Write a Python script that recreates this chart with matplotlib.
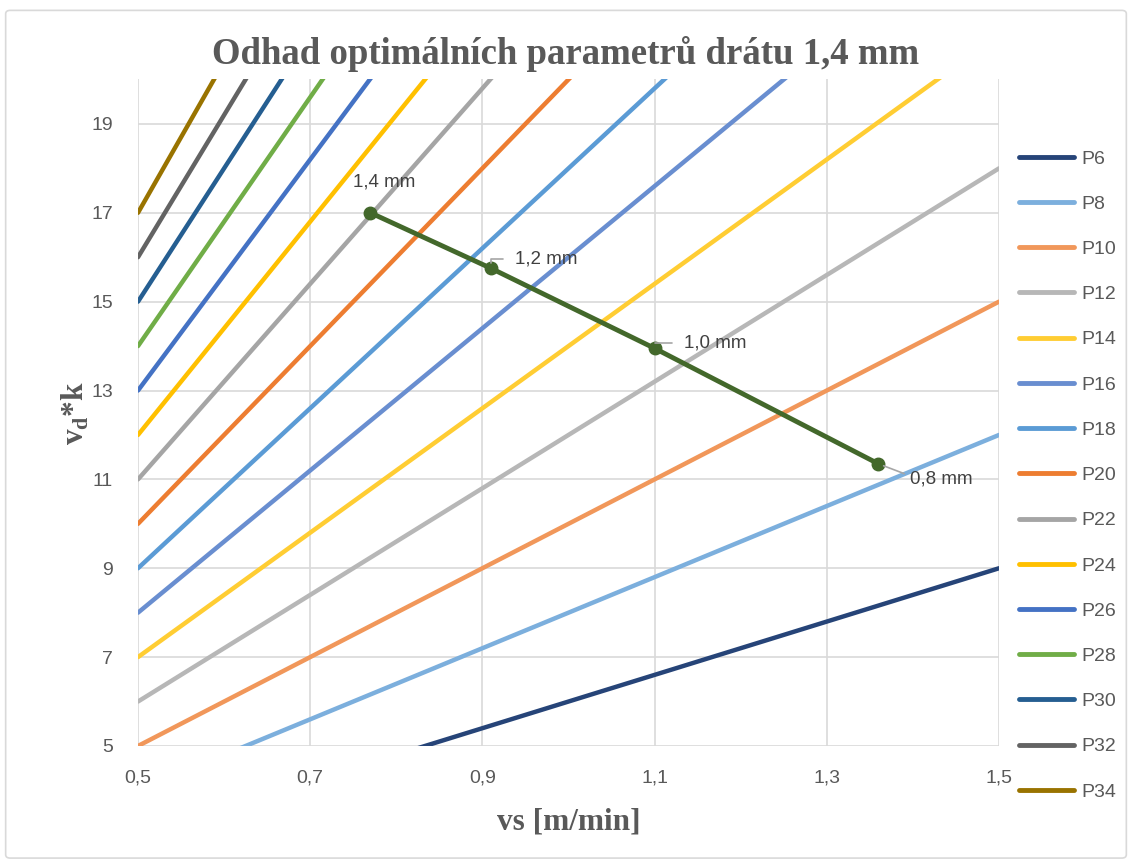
import matplotlib
matplotlib.use("Agg")
import matplotlib.pyplot as plt
from matplotlib.patches import FancyBboxPatch

plt.rcParams["mathtext.fontset"] = "custom"
plt.rcParams["mathtext.rm"] = "Liberation Serif:bold"
plt.rcParams["mathtext.bf"] = "Liberation Serif:bold"

# serie P6..P34: hodnoty v_d*k pri vs = 0,5 a 1,5
nazvy = ["P6", "P8", "P10", "P12", "P14", "P16", "P18", "P20",
         "P22", "P24", "P26", "P28", "P30", "P32", "P34"]
vs_krajni = [0.5, 1.5]
y_zac = [3, 4, 5, 6, 7, 8, 9, 10, 11, 12, 13, 14, 15, 16, 17]
y_kon = [9, 12, 15, 18, 21, 24, 27, 30, 33, 36, 39, 42, 45, 48, 51]
barvy = ["#264478", "#7CAFDD", "#F1975A", "#B7B7B7", "#FFCD33", "#698ED0",
         "#5B9BD5", "#ED7D31", "#A5A5A5", "#FFC000", "#4472C4", "#70AD47",
         "#255E91", "#636363", "#997300"]

# odhad optimalnich parametru
opt_vs = [0.77, 0.91, 1.10, 1.36]
opt_y = [17.0, 15.75, 13.95, 11.35]
opt_popisky = ["1,4 mm", "1,2 mm", "1,0 mm", "0,8 mm"]

sedy = "#595959"
fig = plt.figure(figsize=(11.32, 8.65), dpi=100)
ax = fig.add_axes([0.1219, 0.1376, 0.7606, 0.7705])

# ramecek grafu
fig.patches.append(FancyBboxPatch((0.005, 0.008), 0.99, 0.98, boxstyle="round,pad=0,rounding_size=0.004",
                                  transform=fig.transFigure, fill=False, ec="#D9D9D9", lw=1.2))

for i in range(len(nazvy)):
    ax.plot(vs_krajni, [y_zac[i], y_kon[i]], color=barvy[i], lw=3.2,
            solid_capstyle="round", label=nazvy[i], zorder=2)

ax.plot(opt_vs, opt_y, color="#43682B", lw=3.5, marker="o", ms=9, zorder=3)

# popisky bodu
txt = dict(ha="center", va="center", fontsize=13.5, color="#404040", family="Liberation Sans")
leader = dict(arrowstyle="-", color="#A6A6A6", lw=1.2, shrinkA=7, shrinkB=4,
              relpos=(0, 0.5), connectionstyle="angle,angleA=0,angleB=90,rad=0")
ax.annotate(opt_popisky[0], (opt_vs[0], opt_y[0]), xytext=(10, 22), textcoords="offset points", **txt)
ax.annotate(opt_popisky[1], (opt_vs[1], opt_y[1]), xytext=(40, 7), textcoords="offset points",
            arrowprops=leader, **txt)
ax.annotate(opt_popisky[2], (opt_vs[2], opt_y[2]), xytext=(44, 4), textcoords="offset points",
            arrowprops=leader, **txt)
ax.annotate(opt_popisky[3], (opt_vs[3], opt_y[3]), xytext=(45, -11), textcoords="offset points",
            arrowprops=dict(arrowstyle="-", color="#A6A6A6", lw=1.2, shrinkA=2, shrinkB=4,
                            relpos=(0.0, 0.7)), **txt)

ax.set_xlim(0.5, 1.5)
ax.set_ylim(5, 20)
ax.set_xticks([0.5, 0.7, 0.9, 1.1, 1.3, 1.5])
ax.set_yticks([5, 7, 9, 11, 13, 15, 17, 19])
ax.set_xticklabels(["0,5", "0,7", "0,9", "1,1", "1,3", "1,5"])
ax.set_yticklabels(["5", "7", "9", "11", "13", "15", "17", "19"])
ax.tick_params(axis="x", length=0, labelsize=14, colors=sedy, pad=17)
ax.tick_params(axis="y", length=0, labelsize=14, colors=sedy, pad=18)
for t in ax.get_xticklabels() + ax.get_yticklabels():
    t.set_family("Liberation Sans")
ax.grid(True, color="#D9D9D9", lw=1.2)
ax.set_axisbelow(True)
for s in ax.spines.values():
    s.set_visible(False)

fig.text(0.5, 0.937, "Odhad optimálních parametrů drátu 1,4 mm", ha="center", va="center",
         fontsize=26.5, fontweight="bold", family="Liberation Serif", color=sedy)
xl = ax.set_xlabel("vs [m/min]", fontsize=22.5, fontweight="bold", family="Liberation Serif", color=sedy)
xl.set_va("center")
ax.xaxis.set_label_coords(0.5, -0.114)
yl = ax.set_ylabel("v$_\\mathbf{d}$*k", fontsize=22.5, fontweight="bold", family="Liberation Serif", color=sedy)
yl.set_va("center")
ax.yaxis.set_label_coords(-0.073, 0.5)

leg = fig.legend(*ax.get_legend_handles_labels(), loc="upper left",
                 bbox_to_anchor=(1019 / 1132, 1 - 150 / 865), frameon=False,
                 labelspacing=1.42, handlelength=2.85, handletextpad=0.35,
                 borderpad=0, borderaxespad=0,
                 prop={"family": "Liberation Sans", "size": 14})
for t in leg.get_texts():
    t.set_color(sedy)
for h in leg.get_lines():
    h.set_linewidth(3.5)

fig.savefig("out.png", dpi=100)
